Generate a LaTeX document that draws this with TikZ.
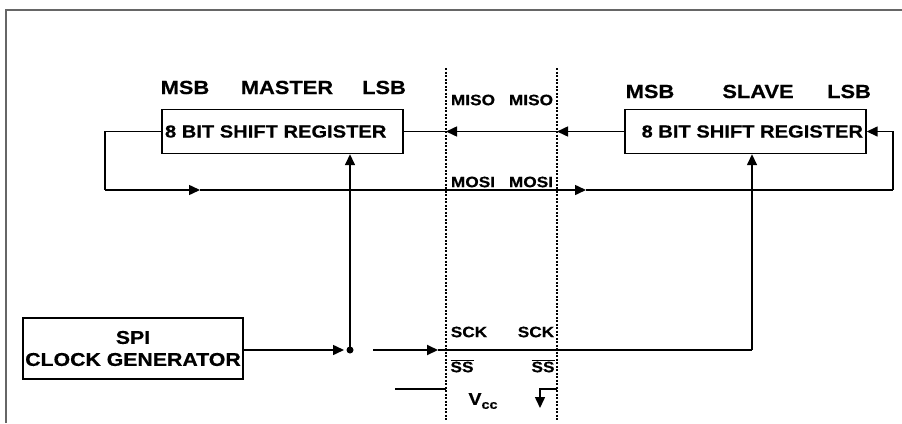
\documentclass[tikz,border=0pt]{standalone}
\usepackage{fontspec}
\setmainfont{Liberation Sans}[FakeStretch=1.15, BoldFeatures={FakeBold=0.5}]
\usetikzlibrary{arrows.meta}
\tikzset{
  regbox/.style={draw, line width=1.4pt, minimum width=241pt, minimum height=44pt, inner sep=0pt, font=\fontsize{17.5}{20}\selectfont\bfseries},
  biglbl/.style={inner sep=0pt, font=\fontsize{19}{21}\selectfont\bfseries},
  siglbl/.style={inner sep=0pt, font=\fontsize{15}{17}\selectfont\bfseries},
  wire/.style={line width=1.5pt},
  tip/.style={wire, -{Triangle[length=11pt,width=10pt]}},
  sep/.style={line width=1.1pt, dash pattern=on 2pt off 1.5pt},
}
\begin{document}
\begin{tikzpicture}[x=1pt,y=-1pt]
\useasboundingbox (0,0) rectangle (902,423);
\fill[white] (0,0) rectangle (902,423);
% outer frame
\draw[black!60, line width=1.5pt] (6,423) -- (6,10) -- (902,10);

% boxes
\node[regbox] (mreg) at (282.5,131.5) {\makebox[235pt][l]{\raisebox{-3pt}{8 BIT SHIFT REGISTER}}};
\node[regbox] (sreg) at (745.5,131.5) {\makebox[235pt][r]{\raisebox{-3pt}{8 BIT SHIFT REGISTER}}};
\node[regbox, minimum width=220pt, minimum height=61pt, align=center, font=\fontsize{18.5}{22}\selectfont\bfseries] (clk) at (133,348.5) {SPI\\CLOCK GENERATOR};

% labels above registers
\node[biglbl] (mmsb) at (185,87.5) {MSB};
\node[biglbl] (mmas) at (287,87.5) {MASTER};
\node[biglbl] (mlsb) at (384,87.5) {LSB};
\node[biglbl] (smsb) at (650,91.5) {MSB};
\node[biglbl] (ssla) at (758,91.5) {SLAVE};
\node[biglbl] (slsb) at (849,91.5) {LSB};

% separator lines
\coordinate (d1t) at (446,68);
\coordinate (d1b) at (446,420);
\coordinate (d2t) at (557,68);
\coordinate (d2b) at (557,420);
\draw[sep] (d1t) -- (d1b);
\draw[sep] (d2t) -- (d2b);

% signal labels
\node[siglbl] (miso1) at (473,100) {MISO};
\node[siglbl] (miso2) at (531,100) {MISO};
\node[siglbl] (mosi1) at (473,182) {MOSI};
\node[siglbl] (mosi2) at (531,182) {MOSI};
\node[siglbl] (sck1) at (469,332) {SCK};
\node[siglbl] (sck2) at (536,332) {SCK};
\node[siglbl] (ss1) at (462,366) {$\overline{\mbox{SS}}$};
\node[siglbl] (ss2) at (543,366) {$\overline{\mbox{SS}}$};
\node[siglbl, font=\fontsize{17}{19}\selectfont\bfseries] (vcc) at (483,401) {V\raisebox{-4pt}{\fontsize{12.5}{14}\selectfont cc}};

% MISO
\draw[tip] (sreg.west) -- (sreg.west -| d2t);
\draw[tip] (sreg.west -| d2t) -- (sreg.west -| d1t);
\draw[wire] (sreg.west -| d1t) -- (mreg.east);

% MOSI loop
\coordinate (mL) at (105,190);
\coordinate (a1) at (200,190);
\coordinate (a2) at (586,190);
\coordinate (sR) at (893,190);
\draw[wire] (mreg.west) -| (mL);
\draw[tip] (mL) -- (a1);
\draw[tip] (a1) -- (a2);
\draw[wire] (a2) -- (sR);
\draw[tip] (sR) |- (sreg.east);

% SCK
\coordinate (a3) at (344,350);
\coordinate (j) at (350,350);
\coordinate (s1) at (373,350);
\coordinate (a4) at (438,350);
\coordinate (k) at (752,350);
\draw[tip] (clk.east |- a3) -- (a3);
\fill (j) circle (3.5pt);
\draw[tip] (j) -- (j |- mreg.south);
\draw[wire] (a4) -- (k);
\draw[tip, line width=2pt] (s1) -- (a4);
\draw[tip] (k) -- (k |- sreg.south);

% SS / Vcc
\coordinate (v1) at (395,389);
\coordinate (v2) at (540,389);
\coordinate (v3) at (540,408);
\draw[wire] (v1) -- (v1 -| d1t);
\draw[tip] (v2 -| d2t) -- (v2) -- (v3);
\end{tikzpicture}
\end{document}
